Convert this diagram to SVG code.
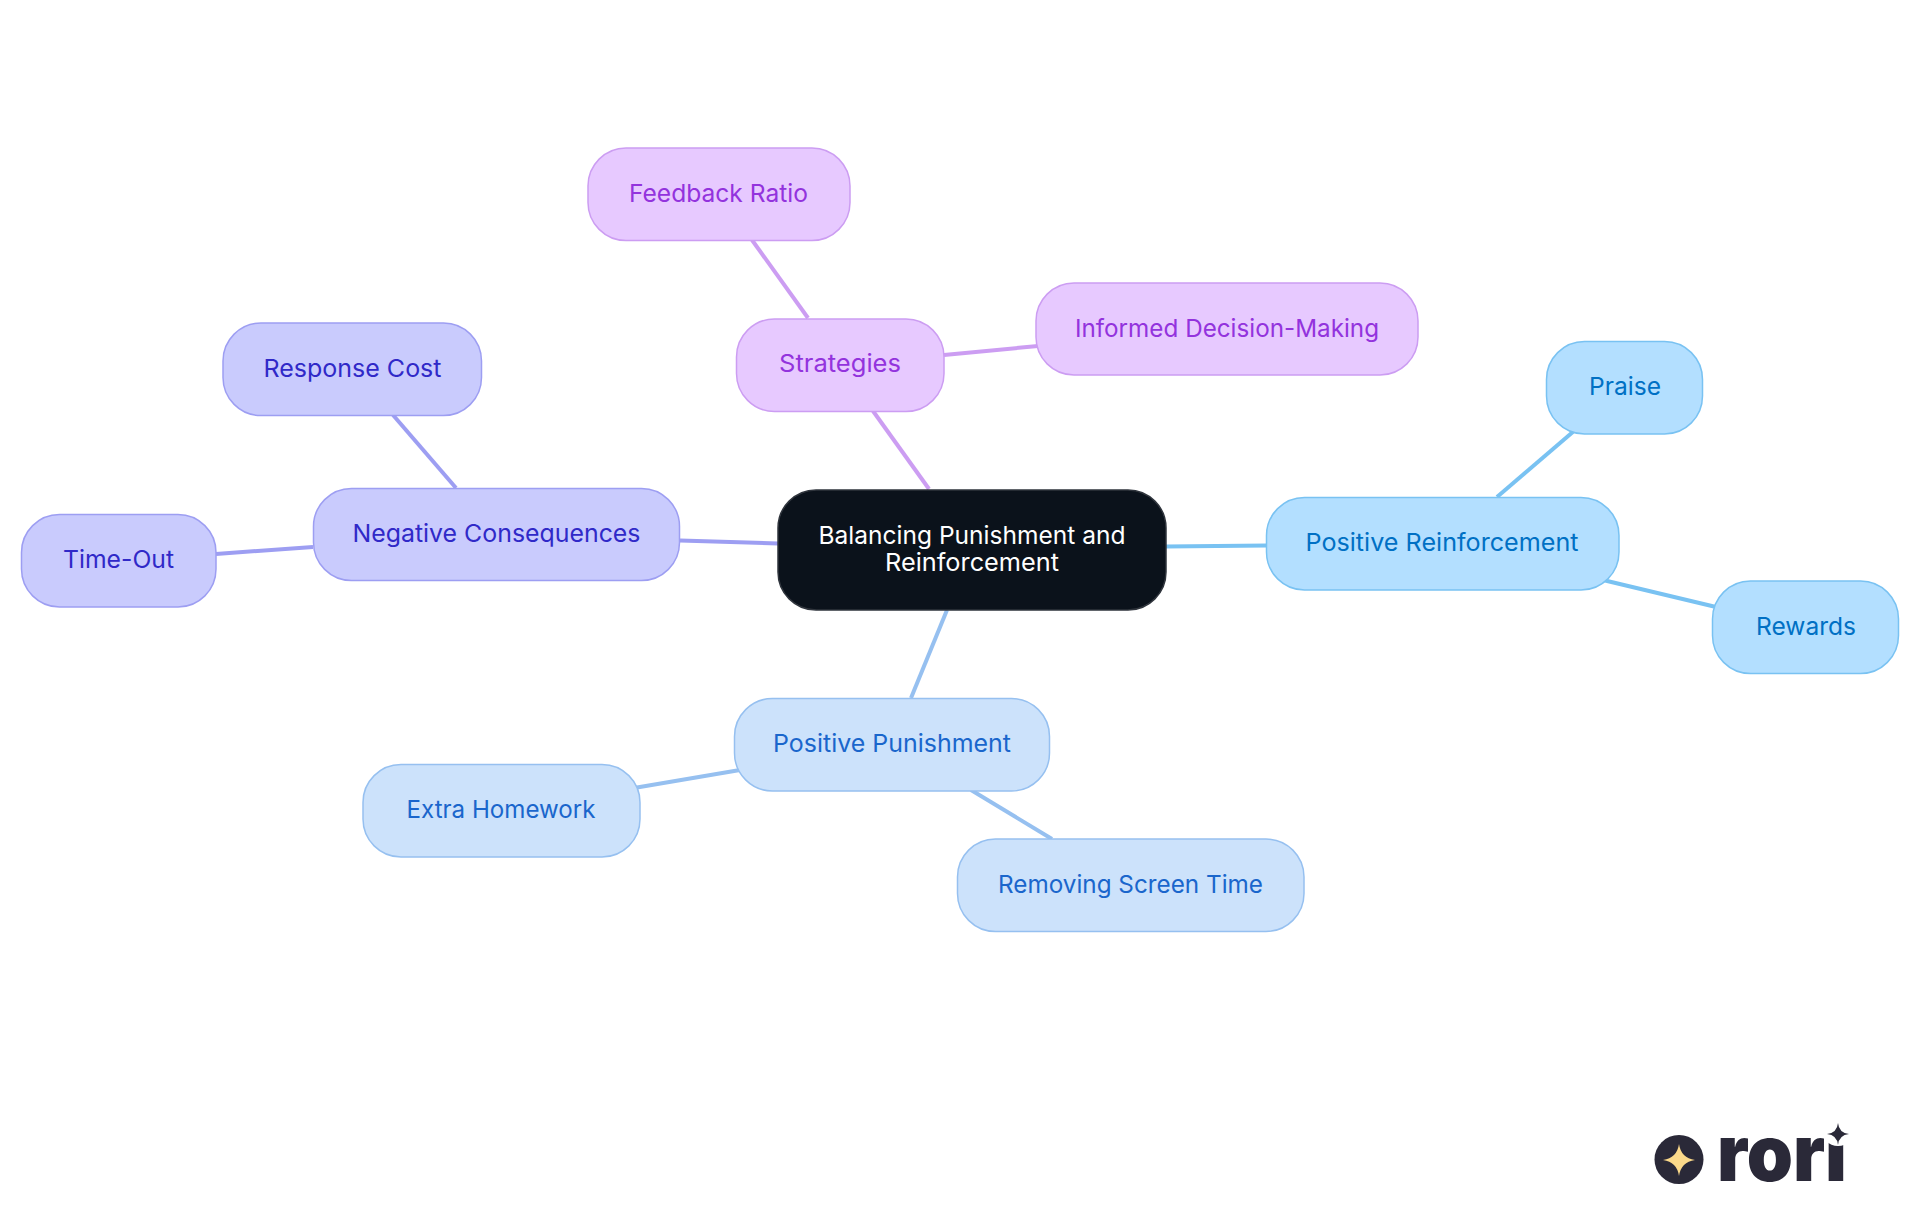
<svg xmlns="http://www.w3.org/2000/svg" width="1920" height="1215" viewBox="0 0 1920 1215">
<style>
text{font-family:"Inter","Liberation Sans",sans-serif;font-size:24.5px;text-anchor:middle}
.n{stroke-width:1.5}
.e{fill:none;stroke-width:4}
.a rect{fill:#b3dfff;stroke:#79c2f2}.a text{fill:#0070c4}
.b rect{fill:#cce2fb;stroke:#96c0f0}.b text{fill:#1a66cc}
.c rect{fill:#c9cbfd;stroke:#9d9ef2}.c text{fill:#3029c8}
.d rect{fill:#e7c9ff;stroke:#cc9df2}.d text{fill:#9333dd}
</style>
<rect width="1920" height="1215" fill="#fff"/>
<g id="connectors">
<path class="e" stroke="#79c2f2" d="M1166 546.500L1267 545.500"/>
<path class="e" stroke="#79c2f2" d="M1497 497L1574 431"/>
<path class="e" stroke="#79c2f2" d="M1603 580L1716 607"/>
<path class="e" stroke="#96c0f0" d="M947 610L911 698"/>
<path class="e" stroke="#96c0f0" d="M740 770L634 788"/>
<path class="e" stroke="#96c0f0" d="M971 790L1052 839"/>
<path class="e" stroke="#9d9ef2" d="M778 543.500L680 540.500"/>
<path class="e" stroke="#9d9ef2" d="M456 488L393 415"/>
<path class="e" stroke="#9d9ef2" d="M313 547L216 554"/>
<path class="e" stroke="#cc9df2" d="M929 489L873 411"/>
<path class="e" stroke="#cc9df2" d="M808 318L752 240"/>
<path class="e" stroke="#cc9df2" d="M944 355L1038 346"/>
</g>
<g id="root"><rect x="778" y="490" width="388" height="120" rx="38" fill="#0b121b" stroke="#2f343c" class="n"/><text x="972" y="544" fill="#fff" textLength="307" lengthAdjust="spacingAndGlyphs">Balancing Punishment and</text><text x="972" y="571" fill="#fff" textLength="174" lengthAdjust="spacingAndGlyphs">Reinforcement</text></g>
<g id="pr" class="a"><rect class="n" x="1266.500" y="497.500" width="352.500" height="92.500" rx="38"/><text x="1442" y="551" textLength="273" lengthAdjust="spacingAndGlyphs">Positive Reinforcement</text></g>
<g id="praise" class="a"><rect class="n" x="1546.500" y="341.500" width="156" height="92.500" rx="38"/><text x="1625" y="394.500" textLength="72" lengthAdjust="spacingAndGlyphs">Praise</text></g>
<g id="rewards" class="a"><rect class="n" x="1712.500" y="581" width="186" height="92.500" rx="38"/><text x="1806" y="634.500" textLength="100" lengthAdjust="spacingAndGlyphs">Rewards</text></g>
<g id="pp" class="b"><rect class="n" x="734.500" y="698.500" width="315" height="92.500" rx="38"/><text x="892" y="752" textLength="238" lengthAdjust="spacingAndGlyphs">Positive Punishment</text></g>
<g id="eh" class="b"><rect class="n" x="363" y="764.500" width="277" height="92.500" rx="38"/><text x="501" y="818" textLength="189" lengthAdjust="spacingAndGlyphs">Extra Homework</text></g>
<g id="rst" class="b"><rect class="n" x="957.500" y="839" width="346.500" height="92.500" rx="38"/><text x="1130.500" y="893" textLength="265" lengthAdjust="spacingAndGlyphs">Removing Screen Time</text></g>
<g id="nc" class="c"><rect class="n" x="313.500" y="488.500" width="366" height="92" rx="38"/><text x="496.500" y="542" textLength="288" lengthAdjust="spacingAndGlyphs">Negative Consequences</text></g>
<g id="rc" class="c"><rect class="n" x="223" y="323" width="258.500" height="92.500" rx="38"/><text x="352.500" y="377" textLength="178" lengthAdjust="spacingAndGlyphs">Response Cost</text></g>
<g id="to" class="c"><rect class="n" x="21.500" y="514.500" width="194.500" height="92.500" rx="38"/><text x="118.500" y="568" textLength="111" lengthAdjust="spacingAndGlyphs">Time-Out</text></g>
<g id="st" class="d"><rect class="n" x="736.500" y="319" width="207.500" height="92.500" rx="38"/><text x="840" y="372" textLength="122" lengthAdjust="spacingAndGlyphs">Strategies</text></g>
<g id="fr" class="d"><rect class="n" x="588" y="148" width="262" height="92.500" rx="38"/><text x="718.500" y="202" textLength="179" lengthAdjust="spacingAndGlyphs">Feedback Ratio</text></g>
<g id="idm" class="d"><rect class="n" x="1036" y="283" width="382" height="92" rx="38"/><text x="1227" y="336.500" textLength="304" lengthAdjust="spacingAndGlyphs">Informed Decision-Making</text></g>
<g id="logo">
<circle cx="1679" cy="1159.500" r="24.500" fill="#2a2938"/>
<path fill="#fbd98a" d="M1679 1144Q1681 1158 1695 1160Q1681 1162 1679 1176Q1677 1162 1663 1160Q1677 1158 1679 1144Z"/>
<text x="1782" y="1181" textLength="130" lengthAdjust="spacingAndGlyphs" style="font-size:78px;font-weight:900" fill="#2a2938">rori</text>
<circle cx="1838" cy="1129" r="17" fill="#fff"/>
<path fill="#2a2938" d="M1838 1123Q1839 1133 1849 1134Q1839 1135 1838 1145Q1837 1135 1827 1134Q1837 1133 1838 1123Z"/>
</g>
</svg>
